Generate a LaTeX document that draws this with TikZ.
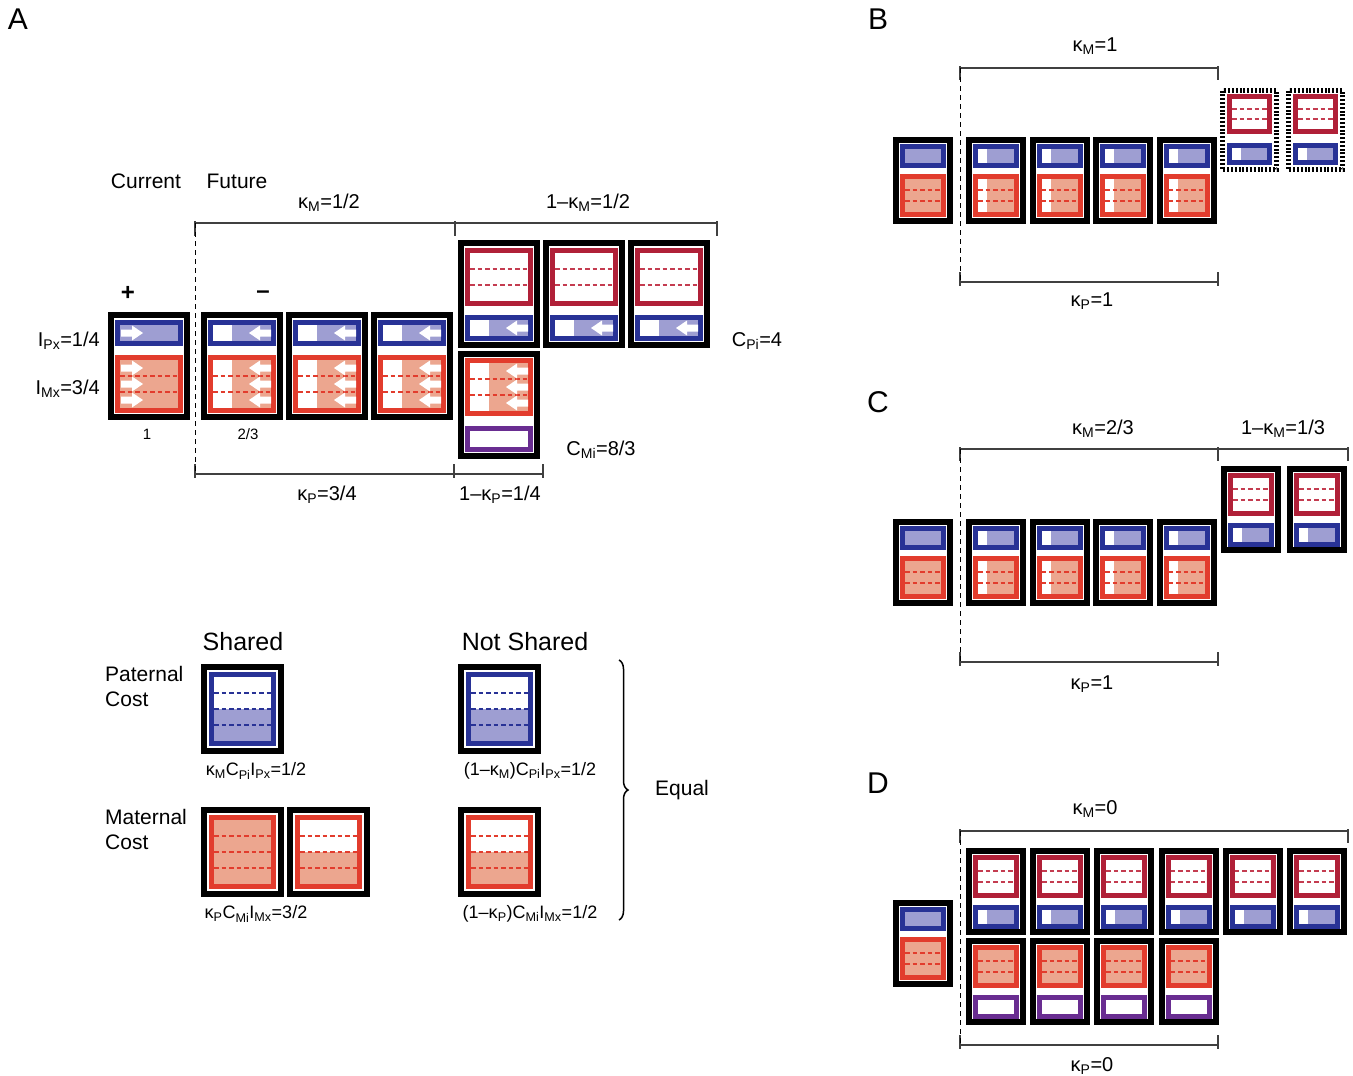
\documentclass[tikz,border=0pt]{standalone}
\usepackage{fontspec}
\setmainfont{Liberation Sans}
\usetikzlibrary{decorations.pathreplacing}
\definecolor{pblue}{RGB}{40,50,150}
\definecolor{plite}{RGB}{158,158,210}
\definecolor{mred}{RGB}{226,60,45}
\definecolor{mlite}{RGB}{236,166,143}
\definecolor{pred}{RGB}{176,32,56}
\definecolor{pdash}{RGB}{196,60,80}
\definecolor{mpurp}{RGB}{105,45,145}
\newcommand{\lo}[1]{\textsubscript{#1}}
\begin{document}
\begin{tikzpicture}[x=1pt,y=-1pt,
    lab/.style={font=\fontsize{20}{22}\selectfont,inner sep=0pt},
    big/.style={font=\fontsize{21}{25}\selectfont,inner sep=0pt},
    form/.style={font=\fontsize{18}{20}\selectfont,inner sep=0pt},
    tiny/.style={font=\fontsize{15}{17}\selectfont,inner sep=0pt},
    panel/.style={font=\fontsize{30}{32}\selectfont,inner sep=0pt},
    dline/.style={line width=1.3pt,dash pattern=on 4.5pt off 3pt},
    dimline/.style={line width=1.1pt,black!75},
    cutline/.style={line width=1pt,dash pattern=on 5pt off 4pt}]
    \tikzset{
      pics/frame/.style args={#1,#2}{code={
        \draw[line width=6pt,fill=white] (3,3) rectangle (#1-3,#2-3);
      }},
      pics/dotframe/.style args={#1,#2}{code={
        \fill[white] (0,0) rectangle (#1,#2);
        \draw[line width=5pt,dash pattern=on 2pt off 1.8pt] (2.5,2.5) rectangle (#1-2.5,#2-2.5);
      }},
      pics/pbar/.style args={#1,#2,#3}{code={
        \fill[plite] ({5+(#1-10)*#3},5) rectangle (#1-5,#2-5);
        \draw[pblue,line width=5pt] (2.5,2.5) rectangle (#1-2.5,#2-2.5);
      }},
      pics/obar/.style args={#1,#2}{code={
        \draw[mpurp,line width=5pt] (2.5,2.5) rectangle (#1-2.5,#2-2.5);
      }},
      % w, h, white part, border colour, dash colour
      pics/mbox/.style args={#1,#2,#3,#4,#5}{code={
        \fill[mlite] ({5+(#1-10)*#3},5) rectangle (#1-5,#2-5);
        \draw[draw=#5,dline] (5,{5+(#2-10)/3}) -- (#1-5,{5+(#2-10)/3})
          (5,{5+2*(#2-10)/3}) -- (#1-5,{5+2*(#2-10)/3});
        \draw[#4,line width=5pt] (2.5,2.5) rectangle (#1-2.5,#2-2.5);
      }},
      pics/legbox/.style args={#1,#2,#3,#4,#5}{code={
        \fill[#4] (5,{5+(#2-10)*#5}) rectangle (#1-5,#2-5);
        \foreach \k in {1,2,3}
          \draw[#3,dline] (5,{5+\k*(#2-10)/4}) -- (#1-5,{5+\k*(#2-10)/4});
        \draw[#3,line width=5pt] (2.5,2.5) rectangle (#1-2.5,#2-2.5);
      }},
      pics/warr/.style={code={
        \fill[white] (0,-3.5) -- (11,-3.5) -- (11,-7.5) -- (22,0) -- (11,7.5) -- (11,3.5) -- (0,3.5) -- cycle;
      }},
      % small boxes of panels B-D
      pics/curbox/.style={code={
        \path (0,0) pic {frame={60,87}} (7,7) pic {pbar={46,24,0}} (7,37) pic {mbox={46,43,0,mred,mred}};
      }},
      pics/futbox/.style={code={
        \path (0,0) pic {frame={60,87}} (7,7) pic {pbar={46,24,1/4}} (7,37) pic {mbox={46,43,1/4,mred,mred}};
      }},
      pics/patbox/.style={code={
        \path (0,0) pic {frame={60,87}} (7,7) pic {mbox={46,43,1,pred,pdash}} (7,57) pic {pbar={46,24,1/4}};
      }},
      pics/matbox/.style={code={
        \path (0,0) pic {frame={60,87}} (7,7) pic {mbox={46,43,0,mred,mred}} (7,57) pic {obar={46,24}};
      }},
      pics/dotbox/.style={code={
        \path (0,0) pic {dotframe={59,84}} (7,6) pic {mbox={45,40,1,pred,pdash}} (7,55) pic {pbar={45,22,1/4}};
      }}
    }
    \useasboundingbox (0,0) rectangle (1353,1076);
    \fill[white] (0,0) rectangle (1353,1076);

    %PANEL A
    \node[panel] (pA) at (18,19) {A};
    \node[big] (cur) at (146,181) {Current};
    \node[big] (fut) at (237,181) {Future};
    \node[lab] (kMa) at (329,203) {κ\lo{M}=1/2};
    \node[lab] (kMb) at (588,203) {1–κ\lo{M}=1/2};
    \node[font=\fontsize{24}{26}\selectfont\bfseries,inner sep=0pt] (plus) at (128,293) {+};
    \node[font=\fontsize{24}{26}\selectfont\bfseries,inner sep=0pt] (minus) at (263,295) {–};
    \node[lab,anchor=east] (IPx) at (100,341) {I\lo{Px}=1/4};
    \node[lab,anchor=east] (IMx) at (100,389) {I\lo{Mx}=3/4};
    \node[tiny] (one) at (147,434) {1};
    \node[tiny] (twothird) at (248,434) {2/3};
    \node[lab] (CPi) at (757,341) {C\lo{Pi}=4};
    \node[lab] (CMi) at (601,450) {C\lo{Mi}=8/3};
    \node[lab] (kPa) at (327,495) {κ\lo{P}=3/4};
    \node[lab] (kPb) at (500,495) {1–κ\lo{P}=1/4};

    \draw[dimline] (195,223) -- (717,223);
    \foreach \x in {195,455,717} \draw[dimline] (\x,221) -- (\x,236);
    \draw[dimline] (195,474) -- (543,474);
    \foreach \x in {195,454,543} \draw[dimline] (\x,464) -- (\x,478);
    \draw[cutline] (195,223) -- (195,474);

    % current
    \path (108,312) pic {frame={82,108}} (115,320) pic {pbar={68,26,0}} (115,355) pic {mbox={68,58,0,mred,mred}};
    \foreach \y in {333,368,384,400} \path (121,\y) pic {warr};
    % future, shared
    \foreach \x in {201,286,371}{
      \path (\x,312) pic {frame={82,108}} (\x+7,320) pic {pbar={68,26,1/3}} (\x+7,355) pic {mbox={68,58,1/3,mred,mred}};
      \foreach \y in {333,368,384,400} \path (\x+70,\y) pic[xscale=-1] {warr};
    }
    % future, not shared
    \foreach \x in {458,543,628}{
      \path (\x,240) pic {frame={82,108}} (\x+7,248) pic {mbox={68,58,1,pred,pdash}} (\x+7,315) pic {pbar={68,26,1/3}};
      \path (\x+70,328) pic[xscale=-1] {warr};
    }
    \path (458,351) pic {frame={82,108}} (465,358) pic {mbox={68,58,1/3,mred,mred}} (465,426) pic {obar={68,26}};
    \foreach \y in {371,387,403} \path (528,\y) pic[xscale=-1] {warr};

    %LEGEND
    \node[font=\fontsize{25}{28}\selectfont,inner sep=0pt] (shared) at (243,642) {Shared};
    \node[font=\fontsize{25}{28}\selectfont,inner sep=0pt] (notshared) at (525,642) {Not Shared};
    \node[big,align=left,anchor=west] (patcost) at (105,686) {Paternal\\Cost};
    \node[big,align=left,anchor=west] (matcost) at (105,829) {Maternal\\Cost};
    \path (201,664) pic {frame={83,90}} (209,672) pic {legbox={67,74,pblue,plite,0.5}};
    \path (201,807) pic {frame={83,90}} (209,815) pic {legbox={67,74,mred,mlite,0}};
    \path (287,807) pic {frame={83,90}} (295,815) pic {legbox={67,74,mred,mlite,0.5}};
    \path (458,664) pic {frame={83,90}} (466,672) pic {legbox={67,74,pblue,plite,0.5}};
    \path (458,807) pic {frame={83,90}} (466,815) pic {legbox={67,74,mred,mlite,0.5}};
    \node[form] (fSP) at (256,771) {κ\lo{M}C\lo{Pi}I\lo{Px}=1/2};
    \node[form] (fSM) at (256,914) {κ\lo{P}C\lo{Mi}I\lo{Mx}=3/2};
    \node[form] (fNP) at (530,771) {(1–κ\lo{M})C\lo{Pi}I\lo{Px}=1/2};
    \node[form] (fNM) at (530,914) {(1–κ\lo{P})C\lo{Mi}I\lo{Mx}=1/2};
    \draw[decorate,decoration={brace,amplitude=9pt},line width=1.5pt] (619,660) -- (619,920);
    \node[big] (equal) at (682,790) {Equal};

    %PANEL B
    \node[panel] (pB) at (878,19) {B};
    \node[lab] (kMB) at (1095,46) {κ\lo{M}=1};
    \node[lab] (kPB) at (1092,301) {κ\lo{P}=1};
    \draw[dimline] (960,68) -- (1218,68);
    \foreach \x in {960,1218} \draw[dimline] (\x,66) -- (\x,80);
    \draw[dimline] (960,282) -- (1218,282);
    \foreach \x in {960,1218} \draw[dimline] (\x,272) -- (\x,286);
    \draw[cutline] (960,68) -- (960,282);
    \path (893,137) pic {curbox};
    \foreach \x in {966,1029.5,1093,1156.5} \path (\x,137) pic {futbox};
    \foreach \x in {1220,1286} \path (\x,88) pic {dotbox};

    %PANEL C
    \node[panel] (pC) at (878,402) {C};
    \node[lab] (kMC) at (1103,429) {κ\lo{M}=2/3};
    \node[lab] (kMC2) at (1283,429) {1–κ\lo{M}=1/3};
    \node[lab] (kPC) at (1092,684) {κ\lo{P}=1};
    \draw[dimline] (960,449) -- (1348,449);
    \foreach \x in {960,1218,1348} \draw[dimline] (\x,447) -- (\x,461);
    \draw[dimline] (960,662) -- (1218,662);
    \foreach \x in {960,1218} \draw[dimline] (\x,652) -- (\x,666);
    \draw[cutline] (960,449) -- (960,662);
    \path (893,519) pic {curbox};
    \foreach \x in {966,1029.5,1093,1156.5} \path (\x,519) pic {futbox};
    \foreach \x in {1221,1287} \path (\x,466) pic {patbox};

    %PANEL D
    \node[panel] (pD) at (878,783) {D};
    \node[lab] (kMD) at (1095,809) {κ\lo{M}=0};
    \node[lab] (kPD) at (1092,1066) {κ\lo{P}=0};
    \draw[dimline] (960,831) -- (1348,831);
    \foreach \x in {960,1348} \draw[dimline] (\x,829) -- (\x,843);
    \draw[dimline] (960,1045) -- (1218,1045);
    \foreach \x in {960,1218} \draw[dimline] (\x,1035) -- (\x,1049);
    \draw[cutline] (960,831) -- (960,1045);
    \path (893,900) pic {curbox};
    \foreach \i in {0,...,5} \path (966+64.2*\i,848) pic {patbox};
    \foreach \i in {0,...,3} \path (966+64.2*\i,938) pic {matbox};
\end{tikzpicture}
\end{document}
